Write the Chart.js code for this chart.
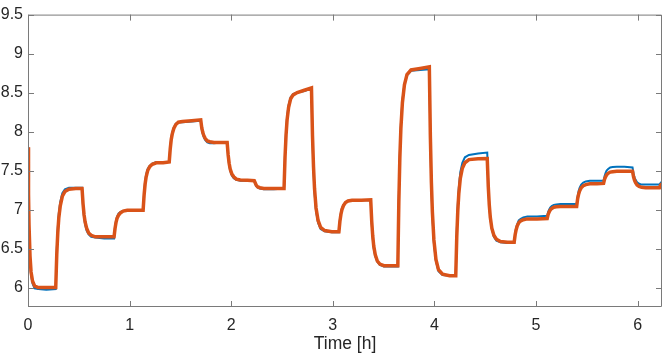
<!DOCTYPE html>
<html>
<head>
<meta charset="utf-8">
<script src="https://cdn.jsdelivr.net/npm/chart.js@4"></script>
<style>
  html, body { margin: 0; padding: 0; background: #fff; }
  #wrap { width: 664px; height: 356px; }
</style>
</head>
<body>
<div id="wrap"><canvas id="stepChart" width="664" height="356"></canvas></div>
<script>
// time axis in hours, shared by both series
const timeH = [
  0, 0.005, 0.01, 0.02, 0.03, 0.045, 0.065, 0.1, 0.18,
  0.273, 0.283, 0.293, 0.303, 0.318, 0.338, 0.363, 0.403, 0.47,
  0.532, 0.542, 0.552, 0.562, 0.577, 0.597, 0.622, 0.662, 0.75,
  0.847, 0.857, 0.867, 0.877, 0.892, 0.912, 0.937, 0.977, 1.05,
  1.133, 1.143, 1.153, 1.163, 1.178, 1.198, 1.223, 1.263, 1.33,
  1.39, 1.40, 1.41, 1.42, 1.435, 1.455, 1.48, 1.52, 1.61,
  1.70, 1.71, 1.72, 1.73, 1.745, 1.765, 1.79, 1.83, 1.90,
  1.96, 1.97, 1.98, 1.99, 2.005, 2.025, 2.05, 2.09, 2.16,
  2.227, 2.237, 2.247, 2.262, 2.282, 2.32, 2.42,
  2.52, 2.53, 2.54, 2.55, 2.565, 2.585, 2.61, 2.65, 2.72,
  2.79, 2.80, 2.81, 2.82, 2.835, 2.855, 2.88, 2.92, 2.99,
  3.06, 3.07, 3.08, 3.09, 3.105, 3.125, 3.15, 3.19, 3.28,
  3.373, 3.383, 3.393, 3.403, 3.418, 3.438, 3.463, 3.503, 3.57,
  3.64, 3.65, 3.66, 3.67, 3.685, 3.705, 3.73, 3.77, 3.86,
  3.95, 3.96, 3.97, 3.98, 3.995, 4.015, 4.04, 4.08, 4.15,
  4.21, 4.22, 4.23, 4.24, 4.255, 4.275, 4.30, 4.34, 4.43,
  4.52, 4.53, 4.54, 4.55, 4.565, 4.585, 4.61, 4.65, 4.72,
  4.785, 4.795, 4.805, 4.815, 4.83, 4.85, 4.875, 4.915, 5.01,
  5.11, 5.12, 5.13, 5.14, 5.155, 5.175, 5.20, 5.24, 5.32,
  5.40, 5.41, 5.42, 5.43, 5.445, 5.465, 5.49, 5.53, 5.60,
  5.665, 5.675, 5.685, 5.695, 5.71, 5.73, 5.755, 5.795, 5.87,
  5.95, 5.96, 5.97, 5.98, 5.995, 6.015, 6.04, 6.08, 6.15,
  6.215, 6.225, 6.24
];

// measured (blue)
const measured = [
  7.80, 7.15, 6.75, 6.35, 6.16, 6.05, 5.99, 5.98, 5.97,
  5.98, 6.48, 6.76, 6.95, 7.10, 7.21, 7.26, 7.28, 7.28,
  7.28, 7.04, 6.90, 6.81, 6.73, 6.68, 6.65, 6.64, 6.63,
  6.63, 6.78, 6.86, 6.91, 6.95, 6.97, 6.98, 6.99, 6.99,
  6.99, 7.22, 7.36, 7.45, 7.52, 7.56, 7.59, 7.61, 7.61,
  7.61, 7.80, 7.92, 7.99, 8.05, 8.10, 8.12, 8.12, 8.13,
  8.14, 8.03, 7.97, 7.93, 7.89, 7.86, 7.85, 7.85, 7.86,
  7.86, 7.68, 7.57, 7.50, 7.44, 7.40, 7.38, 7.37, 7.37,
  7.37, 7.33, 7.30, 7.28, 7.27, 7.26, 7.26,
  7.27, 7.72, 8.00, 8.19, 8.34, 8.44, 8.48, 8.50, 8.52,
  8.55, 7.90, 7.50, 7.22, 6.98, 6.83, 6.75, 6.72, 6.71,
  6.71, 6.87, 6.96, 7.02, 7.06, 7.09, 7.11, 7.12, 7.12,
  7.12, 6.82, 6.63, 6.50, 6.40, 6.33, 6.29, 6.27, 6.27,
  6.27, 7.18, 7.73, 8.09, 8.40, 8.61, 8.72, 8.78, 8.79,
  8.80, 7.90, 7.30, 6.92, 6.57, 6.34, 6.21, 6.16, 6.15,
  6.15, 6.72, 7.06, 7.28, 7.48, 7.60, 7.67, 7.70, 7.72,
  7.73, 7.32, 7.05, 6.89, 6.75, 6.65, 6.60, 6.58, 6.57,
  6.57, 6.70, 6.77, 6.81, 6.86, 6.88, 6.90, 6.91, 6.91,
  6.92, 6.97, 7.00, 7.025, 7.045, 7.06, 7.065, 7.07, 7.07,
  7.07, 7.17, 7.24, 7.28, 7.32, 7.345, 7.36, 7.37, 7.37,
  7.37, 7.43, 7.47, 7.50, 7.52, 7.54, 7.545, 7.55, 7.55,
  7.54, 7.46, 7.41, 7.38, 7.35, 7.33, 7.32, 7.32, 7.32,
  7.32, 7.34, 7.36
];

// model (orange)
const model = [
  7.80, 7.20, 6.80, 6.40, 6.20, 6.08, 6.02, 6.00, 6.00,
  6.00, 6.42, 6.70, 6.89, 7.05, 7.17, 7.23, 7.26, 7.27,
  7.27, 7.07, 6.93, 6.84, 6.76, 6.70, 6.67, 6.65, 6.65,
  6.65, 6.76, 6.84, 6.89, 6.93, 6.96, 6.98, 6.99, 6.99,
  6.99, 7.19, 7.33, 7.42, 7.50, 7.55, 7.58, 7.60, 7.60,
  7.61, 7.78, 7.90, 7.97, 8.04, 8.09, 8.12, 8.13, 8.14,
  8.15, 8.05, 7.99, 7.95, 7.91, 7.88, 7.87, 7.86, 7.86,
  7.86, 7.70, 7.59, 7.52, 7.46, 7.42, 7.39, 7.38, 7.375,
  7.37, 7.34, 7.31, 7.29, 7.28, 7.27, 7.27,
  7.27, 7.68, 7.96, 8.15, 8.31, 8.42, 8.47, 8.50, 8.53,
  8.56, 7.95, 7.55, 7.27, 7.02, 6.86, 6.77, 6.73, 6.715,
  6.715, 6.85, 6.94, 7.00, 7.05, 7.09, 7.11, 7.12, 7.12,
  7.125, 6.85, 6.66, 6.53, 6.42, 6.34, 6.30, 6.28, 6.28,
  6.28, 7.11, 7.67, 8.04, 8.37, 8.60, 8.73, 8.79, 8.81,
  8.83, 7.95, 7.36, 6.97, 6.61, 6.36, 6.23, 6.17, 6.15,
  6.15, 6.65, 6.98, 7.20, 7.40, 7.53, 7.60, 7.64, 7.65,
  7.655, 7.30, 7.06, 6.90, 6.76, 6.67, 6.62, 6.59, 6.58,
  6.58, 6.68, 6.745, 6.79, 6.83, 6.855, 6.87, 6.88, 6.88,
  6.885, 6.94, 6.97, 6.995, 7.015, 7.03, 7.035, 7.04, 7.04,
  7.04, 7.14, 7.20, 7.24, 7.28, 7.305, 7.32, 7.33, 7.33,
  7.335, 7.39, 7.42, 7.445, 7.465, 7.48, 7.485, 7.49, 7.49,
  7.49, 7.42, 7.375, 7.345, 7.315, 7.295, 7.285, 7.28, 7.28,
  7.28, 7.31, 7.33
];

const xTicks = [0, 1, 2, 3, 4, 5, 6];
const yTicks = [6, 6.5, 7, 7.5, 8, 8.5, 9, 9.5];

const toPoints = (ys) => timeH.map((t, i) => ({ x: t, y: ys[i] }));

// matlab-ish box with ticks pointing inwards
const boxPlugin = {
  id: "boxPlugin",
  afterDatasetsDraw(chart) {
    const { ctx, chartArea: a, scales } = chart;
    const len = 6;
    ctx.save();
    ctx.strokeStyle = "#7a7a7a";
    ctx.lineWidth = 1;
    ctx.beginPath();
    ctx.rect(a.left + 0.5, a.top + 0.5, a.right - a.left - 1, a.bottom - a.top - 1);
    for (const v of xTicks) {
      const px = Math.round(scales.x.getPixelForValue(v)) + 0.5;
      ctx.moveTo(px, a.bottom);
      ctx.lineTo(px, a.bottom - len);
      ctx.moveTo(px, a.top);
      ctx.lineTo(px, a.top + len);
    }
    for (const v of yTicks) {
      const py = Math.round(scales.y.getPixelForValue(v)) + 0.5;
      ctx.moveTo(a.left, py);
      ctx.lineTo(a.left + len, py);
      ctx.moveTo(a.right, py);
      ctx.lineTo(a.right - len, py);
    }
    ctx.stroke();
    ctx.restore();
  },
};

const tickFont = { family: "'Liberation Sans', Arial, sans-serif", size: 16 };

new Chart(document.getElementById("stepChart").getContext("2d"), {
  type: "line",
  data: {
    datasets: [
      {
        label: "Measured",
        data: toPoints(measured),
        borderColor: "#0072BD",
        borderWidth: 2,
        pointRadius: 0,
        tension: 0,
        fill: false,
        order: 2,
      },
      {
        label: "Model",
        data: toPoints(model),
        borderColor: "#D95319",
        borderWidth: 3.5,
        pointRadius: 0,
        tension: 0,
        fill: false,
        order: 1,
      },
    ],
  },
  options: {
    responsive: false,
    animation: false,
    devicePixelRatio: 1,
    layout: { padding: { top: 5, right: 2, left: 0, bottom: 0 } },
    plugins: {
      legend: { display: false },
      tooltip: { enabled: false },
    },
    scales: {
      x: {
        type: "linear",
        min: 0,
        max: 6.24,
        afterBuildTicks: (axis) => {
          axis.ticks = xTicks.map((v) => ({ value: v }));
        },
        afterFit: (axis) => {
          axis.height = 49;
        },
        grid: { display: false, drawTicks: false },
        border: { display: false },
        ticks: {
          color: "#262626",
          font: tickFont,
          padding: 9,
          maxRotation: 0,
          callback: (v) => String(v),
        },
        title: {
          display: true,
          text: "Time [h]",
          color: "#262626",
          font: { family: "'Liberation Sans', Arial, sans-serif", size: 17.5 },
          padding: { top: 0, bottom: 1 },
        },
      },
      y: {
        type: "linear",
        min: 5.75,
        max: 9.5,
        afterBuildTicks: (axis) => {
          axis.ticks = yTicks.map((v) => ({ value: v }));
        },
        afterFit: (axis) => {
          axis.width = 28;
        },
        grid: { display: false, drawTicks: false },
        border: { display: false },
        ticks: {
          color: "#262626",
          font: tickFont,
          padding: 5,
          callback: (v) => String(v),
        },
      },
    },
  },
  plugins: [boxPlugin],
});
</script>
</body>
</html>
